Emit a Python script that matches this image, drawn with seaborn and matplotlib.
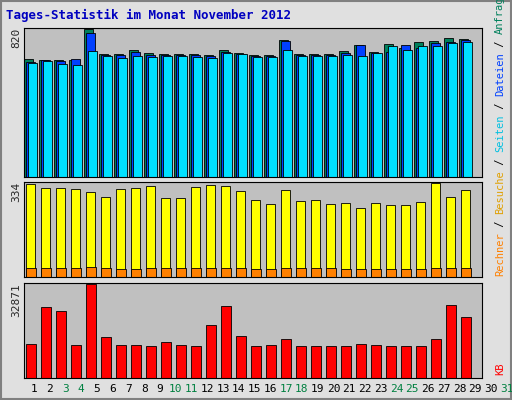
import matplotlib
matplotlib.use("Agg")
import matplotlib.pyplot as plt
import seaborn as sns
import numpy as np

sns.set_style("white")
plt.rcParams['font.family'] = ['DejaVu Sans Mono', 'DejaVu Sans']

days = list(range(1, 32))
weekend = [3, 4, 10, 11, 17, 18, 24, 25, 31]
hits_px = [59,60,60,60,29,54,54,50,53,54,54,54,55,50,53,55,55,40,54,54,54,51,45,52,44,48,42,41,38,39]
files_px = [62,60,61,59,33,55,55,52,55,55,55,55,56,52,54,56,56,41,55,55,55,53,45,53,52,45,48,43,42,40]
pages_px = [63,61,64,65,51,56,58,56,57,56,56,57,58,53,54,57,57,50,56,56,56,55,56,53,46,50,46,46,43,42]
visits_px = [185,189,189,190,193,198,190,189,187,199,199,188,186,187,192,201,205,191,202,201,205,204,209,204,206,206,203,184,198,191]
kb_px = [344,307,311,345,284,337,345,345,346,342,345,346,325,306,336,346,345,339,346,346,346,346,344,345,346,346,346,339,305,317]

hits = [round((177 - p) / 149 * 820) for p in hits_px]
files = [round((177 - p) / 149 * 820) for p in files_px]
pages = [round((177 - p) / 149 * 820) for p in pages_px]
visits = [round((277 - p) / 94 * 334) for p in visits_px]
sites = [30,31,32,30,36,30,27,29,31,31,31,30,31,30,31,29,29,32,31,30,30,28,29,28,29,29,27,31,31,30]
kb = [round((378 - p) / 95 * 32871) for p in kb_px]

W, H = 512, 400
fig = plt.figure(figsize=(W/100, H/100), dpi=100, facecolor='#E0E0E0')
def ax_at(y0, y1):
    return fig.add_axes([24/W, 1 - y1/H, (482-24)/W, (y1-y0)/H], facecolor='#C0C0C0')

x = np.array(days[:30])
ax1 = ax_at(28, 177)
ax1.bar(x - 0.18, hits, width=0.62, color='#00805C', edgecolor='black', lw=0.6)
ax1.bar(x - 0.05, files, width=0.62, color='#0040FF', edgecolor='black', lw=0.6)
ax1.bar(x + 0.1, pages, width=0.62, color='#00E0FF', edgecolor='black', lw=0.6)
ax1.set_ylim(0, 820)
ax1.set_yticks([820]); ax1.set_yticklabels(['820'])

ax2 = ax_at(182, 277)
ax2.bar(x - 0.05, visits, width=0.62, color='#FFFF00', edgecolor='black', lw=0.6)
ax2.bar(x + 0.0, sites, width=0.62, color='#FF8000', edgecolor='black', lw=0.6)
ax2.set_ylim(0, 334)
ax2.set_yticks([334]); ax2.set_yticklabels(['334'])

ax3 = ax_at(283, 378)
sns.barplot(x=x, y=kb, ax=ax3, color='#FF0000', edgecolor='black', lw=0.6, width=0.62, saturation=1, native_scale=True)
ax3.set_ylim(0, 32871)
ax3.set_yticks([32871]); ax3.set_yticklabels(['32871'])
ax3.set_ylabel('')

for ax in (ax1, ax2, ax3):
    ax.set_xlim(1 - 7/15, 1 - 7/15 + 458/15)
    ax.grid(axis='y', color='#808080', lw=0.8)
    ax.set_axisbelow(True)
    for s in ax.spines.values():
        s.set_color('black'); s.set_linewidth(0.8)
    ax.tick_params(axis='y', labelrotation=90, labelsize=8, length=0, pad=2)
    for t in ax.get_yticklabels():
        t.set_va('top')
    ax.set_xticks([])
    ax.set_xlabel('')

for d in days:
    fig.text((34 + (d - 1) * 15.76) / W, 1 - 389/H, str(d), ha='center', va='center',
             fontsize=8, color='#008040' if d in weekend else 'black')

fig.text(6/W, 1 - 15/H, 'Tages-Statistik im Monat November 2012', fontsize=9, fontweight='bold',
         color='#0000C0', va='center')

def vtext(parts, ybottom, cw=6.2):
    y = ybottom
    for s, c in parts:
        fig.text(500/W, 1 - y/H, s, rotation=90, fontsize=7.5, color=c, va='bottom', ha='center')
        y -= len(s) * cw

vtext([('Rechner', '#FF8000'), (' / ', 'black'), ('Besuche', '#E0A000'), (' / ', 'black'), ('Seiten', '#00C0E0'),
       (' / ', 'black'), ('Dateien', '#0040FF'), (' / ', 'black'), ('Anfragen', '#00805C')], 276)
fig.text(500/W, 1 - 369/H, 'KB', rotation=90, fontsize=7.5, color='#FF0000', va='center', ha='center')

fig.add_artist(plt.Rectangle((1/W, 1/H), 1 - 2/W, 1 - 2/H, transform=fig.transFigure, fill=False, ec='#808080', lw=1.5))
fig.savefig('out.png', dpi=100, facecolor=fig.get_facecolor())
